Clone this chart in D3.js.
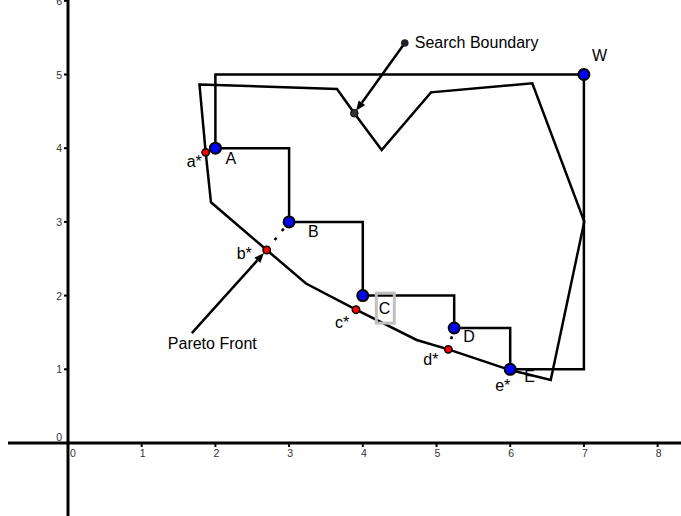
<!DOCTYPE html>
<html><head><meta charset="utf-8">
<script src="https://cdn.jsdelivr.net/npm/d3@7"></script>
<style>
html,body{margin:0;padding:0;background:#fff;}
svg{display:block;font-family:"Liberation Sans",Arial,sans-serif;}
</style></head>
<body>
<svg id="chart" width="681" height="516"></svg>
<script>
// ---- data ----
const xTicks = [0,1,2,3,4,5,6,7,8];
const yTicks = [0,1,2,3,4,5,6];
const mainPoints = [
  {name:"A", x:2, y:4},
  {name:"B", x:3, y:3},
  {name:"C", x:4, y:2},
  {name:"D", x:5.24, y:1.56},
  {name:"E", x:6, y:1},
  {name:"W", x:7, y:5}
];
// staircase path (dominated region)
const stairPath = [
  [2,4],[3,4],[3,3],[4,3],[4,2],[5.24,2],[5.24,1.56],[6,1.56],[6,1],[7,1],[7,5],[2,5],[2,4]
];
// search boundary polygon (incl. Pareto front)
const boundary = [
  [1.784,4.864],[3.650,4.803],[3.885,4.474],[4.256,3.976],[4.925,4.758],
  [6.300,4.881],[7.005,3.003],[6.550,0.855],[6.0,0.99],[5.160,1.271],
  [4.731,1.398],[3.908,1.809],[3.229,2.164],[2.696,2.619],[1.940,3.266],[1.868,3.944]
];
const starPoints = [
  {name:"a*", x:1.868, y:3.944},
  {name:"b*", x:2.696, y:2.619},
  {name:"c*", x:3.908, y:1.809},
  {name:"d*", x:5.160, y:1.271},
  {name:"e*", x:6.0, y:0.99}
];
const boundaryPoint = {x:3.885, y:4.474};
const searchLabelPoint = {x:4.57, y:5.427};
const paretoLabelPoint = {x:1.68, y:1.49};
const dottedLinks = [["B","b*"],["D","d*"]];

// ---- layout ----
const svg = d3.select("#chart");
const x = d3.scaleLinear().domain([0,8]).range([68, 68+8*73.7]);
const y = d3.scaleLinear().domain([0,6]).range([443, 443-6*73.7]);

// axes lines
svg.append("line").attr("x1",8).attr("x2",681).attr("y1",y(0)).attr("y2",y(0))
  .attr("stroke","#000").attr("stroke-width",3);
svg.append("line").attr("x1",x(0)).attr("x2",x(0)).attr("y1",0).attr("y2",516)
  .attr("stroke","#000").attr("stroke-width",3);

// x ticks
const xg = svg.append("g");
xTicks.forEach(t=>{
  if(t>0) xg.append("line").attr("x1",x(t)).attr("x2",x(t)).attr("y1",y(0)).attr("y2",y(0)+4)
    .attr("stroke","#000").attr("stroke-width",2);
  xg.append("text").attr("x",x(t)+(t===0?5:1)).attr("y",y(0)+14)
    .attr("text-anchor","middle").attr("font-size",10.5).attr("fill","#333").text(t);
});
// y ticks
const yg = svg.append("g");
yTicks.forEach(t=>{
  if(t>0) yg.append("line").attr("x1",x(0)-4).attr("x2",x(0)).attr("y1",y(t)).attr("y2",y(t))
    .attr("stroke","#000").attr("stroke-width",2);
  yg.append("text").attr("x",x(0)-6).attr("y",t===0? y(0)-2 : y(t)+4)
    .attr("text-anchor","end").attr("font-size",10.5).attr("fill","#333").text(t);
});

const line = d3.line().x(d=>x(d[0])).y(d=>y(d[1]));

// staircase
svg.append("path").attr("d",line(stairPath)).attr("fill","none")
  .attr("stroke","#000").attr("stroke-width",2.5).attr("stroke-linejoin","miter");
// boundary
svg.append("path").attr("d",line(boundary)+"Z").attr("fill","none")
  .attr("stroke","#000").attr("stroke-width",2.5).attr("stroke-linejoin","miter");

// dotted links
const byName = {};
mainPoints.concat(starPoints).forEach(p=>byName[p.name]=p);
dottedLinks.forEach(([a,b])=>{
  const p=byName[a], q=byName[b];
  svg.append("line").attr("x1",x(p.x)).attr("y1",y(p.y)).attr("x2",x(q.x)).attr("y2",y(q.y))
    .attr("stroke","#000").attr("stroke-width",2.5)
    .attr("stroke-dasharray","3 8.6").attr("stroke-dashoffset",3);
});

// arrows
function arrow(from,to,stopShort){
  const x1=x(from.x), y1=y(from.y), x2=x(to.x), y2=y(to.y);
  const dx=x2-x1, dy=y2-y1, L=Math.hypot(dx,dy), ux=dx/L, uy=dy/L;
  const tipX=x2-ux*stopShort, tipY=y2-uy*stopShort;
  const hl=10, hw=4;
  const bx=tipX-ux*hl, by=tipY-uy*hl;
  svg.append("line").attr("x1",x1).attr("y1",y1).attr("x2",bx).attr("y2",by)
    .attr("stroke","#000").attr("stroke-width",2.5);
  svg.append("path").attr("d",`M${tipX},${tipY}L${bx-uy*hw},${by+ux*hw}L${bx+uy*hw},${by-ux*hw}Z`)
    .attr("fill","#000");
}
arrow(paretoLabelPoint, byName["b*"], 4);
arrow(searchLabelPoint, boundaryPoint, 3);

// search boundary anchor dot & boundary point
svg.append("circle").attr("cx",x(searchLabelPoint.x)).attr("cy",y(searchLabelPoint.y)).attr("r",3.8).attr("fill","#222");
svg.append("circle").attr("cx",x(boundaryPoint.x)).attr("cy",y(boundaryPoint.y)).attr("r",3.8).attr("fill","#333").attr("stroke","#000").attr("stroke-width",1);

// red star points
svg.selectAll(".star").data(starPoints).enter().append("circle")
  .attr("cx",d=>x(d.x)).attr("cy",d=>y(d.y)).attr("r",3.7)
  .attr("fill","#ff0000").attr("stroke","#000").attr("stroke-width",1.5);

// blue main points
svg.selectAll(".main").data(mainPoints).enter().append("circle")
  .attr("cx",d=>x(d.x)).attr("cy",d=>y(d.y)).attr("r",5.5)
  .attr("fill","#0000ff").attr("stroke","#000").attr("stroke-width",2);

// labels
const labelOffsets = {
  "A":[10,16],"B":[19,15],"C":[16,18],"D":[9,14],"E":[14,13],"W":[8,-14],
  "a*":[-19,15],"b*":[-30,9],"c*":[-21,18],"d*":[-25,16],"e*":[-15,21]
};
// highlight box around C label
const pc = byName["C"];
svg.append("rect").attr("x",x(pc.x)+13.5).attr("y",y(pc.y)-2.5).attr("width",18).attr("height",30)
  .attr("fill","none").attr("stroke","#c0c0c0").attr("stroke-width",3);

mainPoints.concat(starPoints).forEach(p=>{
  const o = labelOffsets[p.name];
  svg.append("text").attr("x",x(p.x)+o[0]).attr("y",y(p.y)+o[1])
    .attr("font-size",16).attr("fill","#000").text(p.name);
});

svg.append("text").attr("x",x(searchLabelPoint.x)+10).attr("y",y(searchLabelPoint.y)+5)
  .attr("font-size",16).attr("fill","#000").text("Search Boundary");
svg.append("text").attr("x",x(paretoLabelPoint.x)-24).attr("y",y(paretoLabelPoint.y)+16)
  .attr("font-size",16).attr("fill","#000").text("Pareto Front");
</script>
</body></html>
